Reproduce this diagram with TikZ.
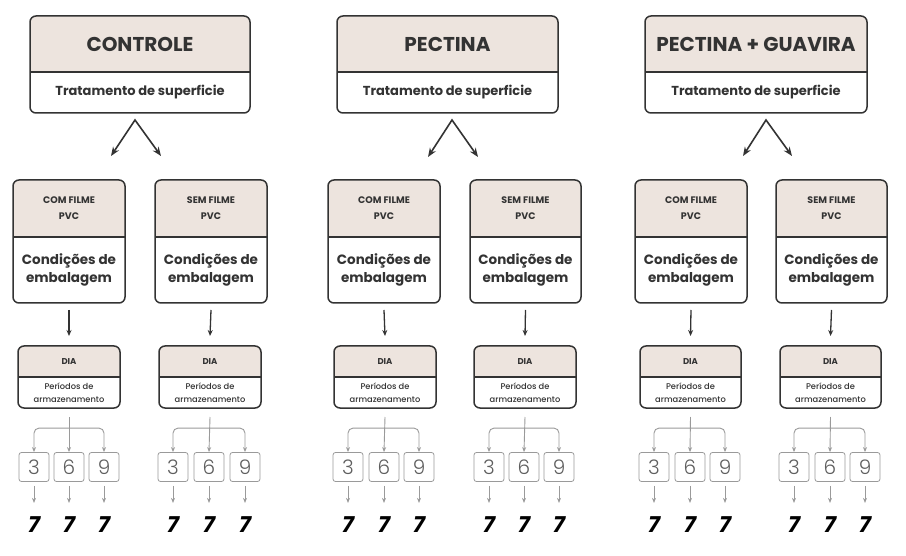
\documentclass[tikz,border=0pt]{standalone}
\usepackage{fontspec}
\setmainfont{Poppins}
\newfontfamily\numfont{Poppins}[UprightFont=* Light]
\newfontfamily\medfont{Poppins}[UprightFont=* Medium]
\usetikzlibrary{arrows.meta,calc}
\definecolor{hdr}{HTML}{EDE4DE}
\definecolor{ink}{HTML}{333333}
\definecolor{lgray}{HTML}{9A9A9A}
\definecolor{numc}{HTML}{5E5E5E}
\tikzset{
 x=1pt, y=-1pt,
 frame/.style={draw=ink, line width=1.5pt, rounded corners=6pt},
 divline/.style={draw=ink, line width=1.5pt},
 toph/.style={font=\fontsize{20}{22}\selectfont\bfseries, text=ink},
 topb/.style={font=\fontsize{13}{15}\selectfont\bfseries, text=ink},
 midh/.style={font=\fontsize{9.5}{16}\selectfont\bfseries, align=center, text=ink},
 midb/.style={font=\fontsize{13.5}{18}\selectfont\bfseries, align=center, text=ink},
 diah/.style={font=\fontsize{8.5}{9}\selectfont\bfseries, text=ink},
 diab/.style={font=\medfont\fontsize{8.3}{13}\selectfont, align=center, text=ink},
 numbox/.style={draw=lgray, line width=0.8pt, rounded corners=2.5pt, fill=white,
   minimum width=30pt, minimum height=29pt, inner sep=0pt,
   font=\numfont\fontsize{20}{20}\selectfont, text=numc},
 seven/.style={font=\fontsize{22}{22}\selectfont\bfseries\itshape, text=black, inner sep=0pt},
 bigarr/.style={draw=ink, line width=1.6pt, line join=miter,
   {Stealth[length=9pt,width=7pt]}-{Stealth[length=9pt,width=7pt]}},
 midarr/.style={draw=ink, line width=1.3pt, -{Stealth[length=6pt,width=5pt]}},
 garr/.style={draw=lgray, line width=0.9pt, -{Stealth[length=5pt,width=4pt]}},
 gbr/.style={draw=lgray, line width=0.9pt, rounded corners=5pt,
   {Stealth[length=5pt,width=4pt]}-{Stealth[length=5pt,width=4pt]}},
}
% name, x1, y1, x2, y2, ydiv, header, body, level
\newcommand\tbox[9]{%
 \begin{scope}
  \clip[rounded corners=6pt] (#2,#3) rectangle (#4,#5);
  \fill[hdr] (#2,#3) rectangle (#4,#6);
 \end{scope}
 \draw[divline] (#2,#6) -- (#4,#6);
 \node[minimum width={#4-#2}, minimum height={#5-#3}, inner sep=0pt, outer sep=0pt]
   (#1) at ({(#2+#4)/2},{(#3+#5)/2}) {};
 \draw[frame] (#1.north west) rectangle (#1.south east);
 \node[#9h] (#1h) at ({(#2+#4)/2},{(#3+#6)/2}) {#7};
 \node[#9b] (#1b) at ({(#2+#4)/2},{(#6+#5)/2}) {#8};
}
% prefix, dia node, x3, x6, x9
\newcommand\branch[5]{%
 \node[numbox] (#1a) at (#3,467) {3};
 \node[numbox] (#1b) at (#4,467) {6};
 \node[numbox] (#1c) at (#5,467) {9};
 \node[seven] (#1sa) at (#3,525) {7};
 \node[seven] (#1sb) at (#4,525) {7};
 \node[seven] (#1sc) at (#5,525) {7};
 \draw[garr] ([yshift=-9pt]#2.south) -- (#1b.north);
 \draw[gbr] (#1a.north) -- ++(0,-24) -| (#1c.north);
 \draw[garr] ([yshift=-4pt]#1a.south) -- ([yshift=-21pt]#1a.south);
 \draw[garr] ([yshift=-4pt]#1b.south) -- ([yshift=-21pt]#1b.south);
 \draw[garr] ([yshift=-4pt]#1c.south) -- ([yshift=-21pt]#1c.south);
}
\begin{document}
\begin{tikzpicture}
\useasboundingbox[fill=white] (0,0) rectangle (906,556);

% top boxes
\tbox{g1}{30}{16}{250}{113}{72}{CONTROLE}{Tratamento de superficie}{top}
\tbox{g2}{337}{16}{558}{113}{72}{PECTINA}{Tratamento de superficie}{top}
\tbox{g3}{645}{16}{867}{113}{72}{PECTINA + GUAVIRA}{Tratamento de superficie}{top}

% packaging boxes
\tbox{g1L}{13}{180}{125}{303}{237}{COM FILME\\PVC}{Condições de\\embalagem}{mid}
\tbox{g1R}{155}{180}{267}{303}{237}{SEM FILME\\PVC}{Condições de\\embalagem}{mid}
\tbox{g2L}{328}{180}{440}{303}{237}{COM FILME\\PVC}{Condições de\\embalagem}{mid}
\tbox{g2R}{470}{180}{581}{303}{237}{SEM FILME\\PVC}{Condições de\\embalagem}{mid}
\tbox{g3L}{635}{180}{747}{303}{237}{COM FILME\\PVC}{Condições de\\embalagem}{mid}
\tbox{g3R}{776}{180}{887}{303}{237}{SEM FILME\\PVC}{Condições de\\embalagem}{mid}

% DIA boxes
\tbox{g1Ld}{18}{346}{120}{408}{377}{DIA}{Períodos de\\armazenamento}{dia}
\tbox{g1Rd}{159}{346}{261}{408}{377}{DIA}{Períodos de\\armazenamento}{dia}
\tbox{g2Ld}{334}{346}{436}{408}{377}{DIA}{Períodos de\\armazenamento}{dia}
\tbox{g2Rd}{474}{346}{576}{408}{377}{DIA}{Períodos de\\armazenamento}{dia}
\tbox{g3Ld}{640}{346}{741}{408}{377}{DIA}{Períodos de\\armazenamento}{dia}
\tbox{g3Rd}{780}{346}{881}{408}{377}{DIA}{Períodos de\\armazenamento}{dia}

% split arrows
\coordinate (g1a) at (135,120); \coordinate (g1tl) at (111,156); \coordinate (g1tr) at (161,156);
\coordinate (g2a) at (452,120); \coordinate (g2tl) at (428,157); \coordinate (g2tr) at (478,157);
\coordinate (g3a) at (766,120); \coordinate (g3tl) at (743,156); \coordinate (g3tr) at (792,156);
\draw[bigarr] (g1tl) -- (g1a) -- (g1tr);
\draw[bigarr] (g2tl) -- (g2a) -- (g2tr);
\draw[bigarr] (g3tl) -- (g3a) -- (g3tr);

% packaging -> DIA
\foreach \n in {g1L,g1R,g2L,g2R,g3L,g3R}{
  \draw[midarr] ([yshift=-7pt]\n.south) -- ([yshift=10pt]\n d.north);
}

% day branches
\branch{g1Ln}{g1Ld}{34}{69}{104}
\branch{g1Rn}{g1Rd}{173}{209}{245}
\branch{g2Ln}{g2Ld}{348}{384}{419}
\branch{g2Rn}{g2Rd}{489}{524}{559}
\branch{g3Ln}{g3Ld}{654}{690}{725}
\branch{g3Rn}{g3Rd}{794}{830}{865}
\end{tikzpicture}
\end{document}
